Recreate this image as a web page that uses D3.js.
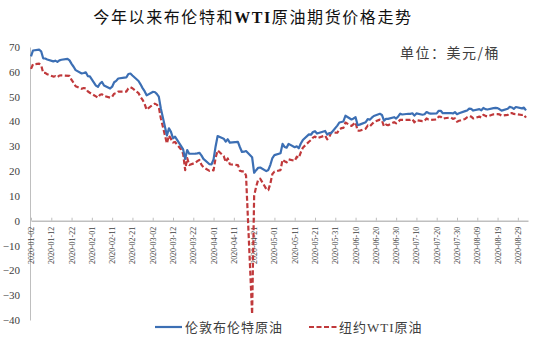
<!DOCTYPE html>
<html>
<head>
<meta charset="utf-8">
<script src="https://cdn.jsdelivr.net/npm/d3@7"></script>
<style>
  html, body { margin: 0; padding: 0; background: #fff; }
  svg { display: block; }
</style>
</head>
<body>
<svg id="chart" width="541" height="343"></svg>
<script>
const dates = [
"2020-01-02","2020-01-03","2020-01-06","2020-01-07","2020-01-08","2020-01-09","2020-01-10",
"2020-01-13","2020-01-14","2020-01-15","2020-01-16","2020-01-17","2020-01-20","2020-01-21",
"2020-01-22","2020-01-23","2020-01-24","2020-01-27","2020-01-28","2020-01-29","2020-01-30","2020-01-31",
"2020-02-03","2020-02-04","2020-02-05","2020-02-06","2020-02-07","2020-02-10","2020-02-11",
"2020-02-12","2020-02-13","2020-02-14","2020-02-17","2020-02-18","2020-02-19","2020-02-20","2020-02-21",
"2020-02-24","2020-02-25","2020-02-26","2020-02-27","2020-02-28",
"2020-03-02","2020-03-03","2020-03-04","2020-03-05","2020-03-06","2020-03-09","2020-03-10",
"2020-03-11","2020-03-12","2020-03-13","2020-03-16","2020-03-17","2020-03-18","2020-03-19","2020-03-20",
"2020-03-23","2020-03-24","2020-03-25","2020-03-26","2020-03-27","2020-03-30","2020-03-31",
"2020-04-01","2020-04-02","2020-04-03","2020-04-06","2020-04-07","2020-04-08","2020-04-09",
"2020-04-13","2020-04-14","2020-04-15","2020-04-16","2020-04-17","2020-04-20","2020-04-21",
"2020-04-22","2020-04-23","2020-04-24","2020-04-27","2020-04-28","2020-04-29","2020-04-30",
"2020-05-01","2020-05-04","2020-05-05","2020-05-06","2020-05-07","2020-05-08","2020-05-11",
"2020-05-12","2020-05-13","2020-05-14","2020-05-15","2020-05-18","2020-05-19","2020-05-20",
"2020-05-21","2020-05-22","2020-05-26","2020-05-27","2020-05-28","2020-05-29",
"2020-06-01","2020-06-02","2020-06-03","2020-06-04","2020-06-05","2020-06-08","2020-06-09",
"2020-06-10","2020-06-11","2020-06-12","2020-06-15","2020-06-16","2020-06-17","2020-06-18",
"2020-06-19","2020-06-22","2020-06-23","2020-06-24","2020-06-25","2020-06-26","2020-06-29","2020-06-30",
"2020-07-01","2020-07-02","2020-07-03","2020-07-06","2020-07-07","2020-07-08","2020-07-09",
"2020-07-10","2020-07-13","2020-07-14","2020-07-15","2020-07-16","2020-07-17","2020-07-20",
"2020-07-21","2020-07-22","2020-07-23","2020-07-24","2020-07-27","2020-07-28","2020-07-29",
"2020-07-30","2020-07-31",
"2020-08-03","2020-08-04","2020-08-05","2020-08-06","2020-08-07","2020-08-10","2020-08-11",
"2020-08-12","2020-08-13","2020-08-14","2020-08-17","2020-08-18","2020-08-19","2020-08-20",
"2020-08-21","2020-08-24","2020-08-25","2020-08-26","2020-08-27","2020-08-28","2020-08-31",
"2020-09-01","2020-09-02"
];

const brent = [
66.25,68.60,68.91,68.27,65.44,65.37,64.98,
64.20,64.49,64.00,64.62,64.85,65.20,64.59,
63.21,62.04,60.69,59.32,59.51,59.81,58.29,58.16,
54.45,53.96,55.28,55.93,54.47,53.27,54.01,
55.79,56.34,57.32,57.67,57.75,59.12,59.31,58.50,
56.30,54.95,53.43,52.18,50.52,
51.90,51.86,51.13,49.99,45.27,34.36,37.22,
35.79,33.22,33.85,30.05,28.73,24.88,28.47,26.98,
27.03,27.15,27.39,26.34,24.93,22.76,22.74,
24.74,29.94,34.11,33.05,31.87,32.84,31.48,
31.74,29.60,27.69,27.82,28.08,25.57,19.33,
20.37,21.33,21.44,19.99,20.46,22.54,25.27,
26.44,27.20,30.97,29.72,29.46,30.97,29.63,
29.98,29.19,31.13,32.50,34.81,34.65,35.75,
36.06,35.13,36.17,34.74,35.29,35.33,
38.32,39.57,39.79,39.99,42.30,40.80,41.18,
41.73,38.55,38.73,39.72,40.96,40.71,41.51,
42.19,43.08,42.63,40.31,41.05,41.02,41.71,41.15,
42.03,43.14,42.80,43.10,43.08,43.29,42.35,
43.24,42.72,42.90,43.79,43.37,43.14,43.28,
44.32,44.29,43.31,43.34,43.41,43.22,43.75,
42.94,43.30,
44.15,44.43,45.17,45.09,44.40,44.99,44.50,
45.43,44.96,44.80,45.37,45.46,45.37,44.90,
44.35,45.13,45.86,45.64,45.09,45.81,45.28,
45.58,44.43
];

const wti = [
61.18,63.05,63.27,62.70,59.61,59.56,59.04,
58.08,58.23,57.81,58.52,58.54,null,58.34,
56.74,55.59,54.19,53.14,53.48,53.33,52.14,51.56,
50.11,49.61,50.75,50.95,50.32,49.57,49.94,
51.17,51.42,52.05,null,52.05,53.29,53.78,53.38,
51.43,49.90,48.73,47.09,44.76,
46.75,47.18,46.78,45.90,41.28,31.13,34.36,
32.98,31.50,31.73,28.70,26.95,20.37,25.22,22.43,
23.36,24.01,24.49,22.60,21.51,20.09,20.48,
20.31,25.32,28.34,26.08,23.63,25.09,22.76,
22.41,20.11,19.87,19.87,18.27,-37.63,10.01,
13.78,16.50,16.94,12.78,12.34,15.06,18.84,
19.78,20.39,24.56,23.99,23.55,24.74,24.14,
25.78,25.29,27.56,29.43,31.82,32.50,33.49,
33.92,33.25,34.35,32.81,33.71,35.49,
35.44,36.81,37.29,37.41,39.55,38.19,38.94,
39.60,36.34,36.26,37.12,38.38,37.96,38.84,
39.75,40.73,40.37,38.01,38.72,38.49,39.70,39.27,
39.82,40.65,null,40.63,40.62,40.90,39.62,
40.55,40.10,40.29,41.20,40.75,40.59,40.81,
41.96,41.90,41.07,41.29,41.60,41.04,41.27,
39.92,40.27,
41.01,41.70,42.19,41.95,41.22,41.94,41.61,
42.67,42.24,42.01,42.89,42.89,42.93,42.82,
42.34,42.62,43.35,43.39,43.04,42.97,42.61,
42.76,41.51
];

const xTickLabels = [
"2020-01-02","2020-01-12","2020-01-22","2020-02-01","2020-02-11","2020-02-21",
"2020-03-02","2020-03-12","2020-03-22","2020-04-01","2020-04-11","2020-04-21",
"2020-05-01","2020-05-11","2020-05-21","2020-05-31","2020-06-10","2020-06-20",
"2020-06-30","2020-07-10","2020-07-20","2020-07-30","2020-08-09","2020-08-19","2020-08-29"
];
const yTicks = [-40,-30,-20,-10,0,10,20,30,40,50,60,70];
const seriesNames = ["伦敦布伦特原油", "纽约WTI原油"];
const titleParts = ["今年以来布伦特和", "WTI", "原油期货价格走势"];
const unitLabel = "单位：美元/桶";

const parse = d3.utcParse("%Y-%m-%d");
const svg = d3.select("#chart");

const x = d3.scaleUtc()
  .domain([parse("2020-01-02"), parse("2020-09-03")])
  .range([31, 528]);
const y = d3.scaleLinear().domain([-40, 70]).range([320, 47]);

const serif = "'Liberation Serif','Times New Roman',serif";
const cjk = "'Noto Sans CJK SC','Noto Sans CJK JP',sans-serif";

// Title
const title = svg.append("text")
  .attr("x", 253).attr("y", 23)
  .attr("text-anchor", "middle")
  .attr("fill", "#111")
  .style("font-size", "16px")
  .style("letter-spacing", "1.6px");
title.append("tspan").style("font-family", cjk).style("font-weight", "400").text(titleParts[0]);
title.append("tspan").style("font-family", serif).style("font-weight", "bold").text(titleParts[1]);
title.append("tspan").style("font-family", cjk).style("font-weight", "400").text(titleParts[2]);

// Unit
svg.append("text")
  .attr("x", 400).attr("y", 58)
  .attr("fill", "#404040")
  .style("font-family", cjk)
  .style("font-size", "14px")
  .style("letter-spacing", "1.5px")
  .text(unitLabel);

// Y axis
const yAxis = svg.append("g")
  .attr("transform", "translate(30,0)")
  .call(d3.axisLeft(y).tickValues(yTicks).tickSize(0).tickPadding(10).tickFormat(d3.format("d")));
yAxis.select(".domain").attr("stroke", "#bfbfbf").attr("stroke-width", 1);
yAxis.selectAll("text")
  .attr("fill", "#404040")
  .style("font-family", serif)
  .style("font-size", "11px");

// X axis at zero
const xAxis = svg.append("g")
  .attr("transform", `translate(0,${y(0)})`)
  .call(d3.axisBottom(x)
    .tickValues(xTickLabels.map(parse))
    .tickSize(-3).tickSizeOuter(0)
    .tickFormat(d3.utcFormat("%Y-%m-%d")));
xAxis.select(".domain").attr("stroke", "#bfbfbf").attr("stroke-width", 1.5);
xAxis.selectAll(".tick line").attr("stroke", "#bfbfbf");
xAxis.selectAll("text")
  .attr("fill", "#404040")
  .style("font-family", serif)
  .style("font-size", "8px")
  .attr("text-anchor", "end")
  .attr("transform", "rotate(-90)")
  .attr("x", -6).attr("y", 0).attr("dy", "0.32em");

// Lines
const brentData = dates.map((d, i) => ({ d: parse(d), v: brent[i] })).filter(p => p.v != null);
const wtiData = dates.map((d, i) => ({ d: parse(d), v: wti[i] })).filter(p => p.v != null);
const line = d3.line().x(p => x(p.d)).y(p => y(p.v));

const blue = "#3c6fb4", red = "#c0393b";

svg.append("path").datum(wtiData)
  .attr("fill", "none").attr("stroke", red).attr("stroke-width", 2.2)
  .attr("stroke-dasharray", "5,2.5").attr("stroke-linejoin", "round")
  .attr("d", line);
svg.append("path").datum(brentData)
  .attr("fill", "none").attr("stroke", blue).attr("stroke-width", 2.2)
  .attr("stroke-linejoin", "round")
  .attr("d", line);

// Legend
const legY = 327;
svg.append("line").attr("x1", 155).attr("x2", 182).attr("y1", legY).attr("y2", legY)
  .attr("stroke", blue).attr("stroke-width", 2.2);
svg.append("text").attr("x", 185).attr("y", legY + 4.5)
  .attr("fill", "#404040").style("font-family", cjk).style("font-size", "13px")
  .style("letter-spacing", "1px").text(seriesNames[0]);
svg.append("line").attr("x1", 309).attr("x2", 337).attr("y1", legY).attr("y2", legY)
  .attr("stroke", red).attr("stroke-width", 2.2).attr("stroke-dasharray", "5,2.5");
const leg2 = svg.append("text").attr("x", 339).attr("y", legY + 4.5)
  .attr("fill", "#404040").style("font-size", "13px").style("letter-spacing", "1px");
leg2.append("tspan").style("font-family", cjk).text("纽约");
leg2.append("tspan").style("font-family", serif).text("WTI");
leg2.append("tspan").style("font-family", cjk).text("原油");
</script>
</body>
</html>
